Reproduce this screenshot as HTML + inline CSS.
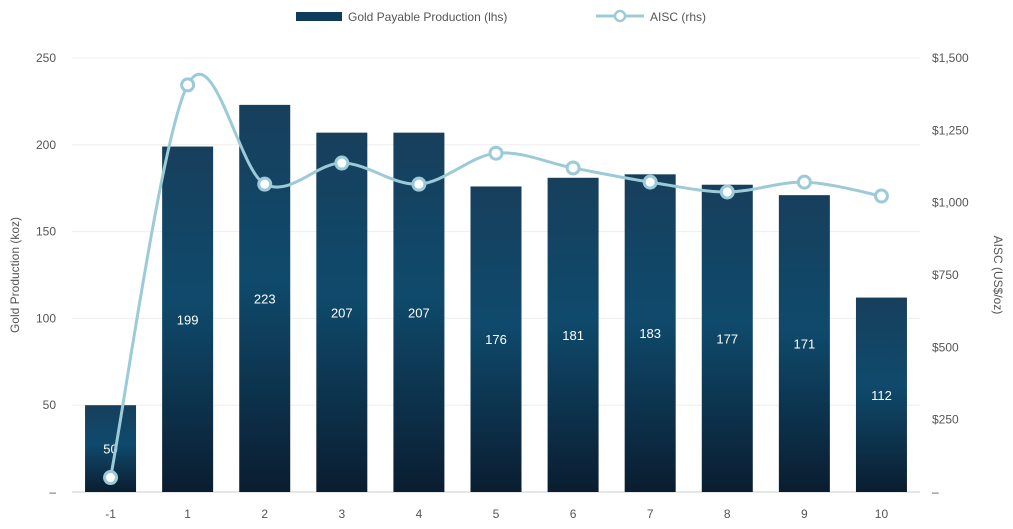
<!DOCTYPE html>
<html><head><meta charset="utf-8"><style>
body{margin:0;background:#fff;font-family:"Liberation Sans",sans-serif}
svg text{font-family:"Liberation Sans",sans-serif}
</style></head><body>
<svg id="c" width="1013" height="524">
<defs>
<linearGradient id="bg" x1="0" y1="0" x2="0" y2="1">
<stop offset="0" stop-color="#173f5c"/><stop offset="0.45" stop-color="#0f4a6c"/><stop offset="1" stop-color="#0a1d30"/>
</linearGradient>
</defs>
<g>
<rect x="296" y="12" width="46" height="9" fill="#0f3c5a"/>
<text x="348" y="21" font-size="12" fill="#555">Gold Payable Production (lhs)</text>
<line x1="596" y1="16" x2="644" y2="16" stroke="#9ccbd8" stroke-width="3"/>
<circle cx="620" cy="16" r="5" fill="#fff" stroke="#9ccbd8" stroke-width="2.5"/>
<text x="650" y="21" font-size="12" fill="#555">AISC (rhs)</text>
</g>
<text transform="translate(19,275) rotate(-90)" text-anchor="middle" font-size="12" fill="#555">Gold Production (koz)</text>
<text transform="translate(994,275) rotate(90)" text-anchor="middle" font-size="12" fill="#555">AISC (US$/oz)</text>
<g id="grid"></g><g id="bars"></g><g id="line"></g>
</svg>
<script>
const categories=["-1","1","2","3","4","5","6","7","8","9","10"];
const production=[50,199,223,207,207,176,181,183,177,171,112];
const aisc=[50,1407,1064,1137,1064,1171,1120,1071,1037,1071,1023];
const leftTicks=[0,50,100,150,200,250];
const rightTicks=[0,250,500,750,1000,1250,1500];
const ns="http://www.w3.org/2000/svg";
const X0=72,X1=920,Y0=492,Y1=58;
const yL=v=>Y0-(v/250)*(Y0-Y1);
const yR=v=>Y0-(v/1500)*(Y0-Y1);
const step=(X1-X0)/categories.length;
const xC=i=>X0+step*(i+0.5);
function mk(t,a,p){const e=document.createElementNS(ns,t);for(const k in a)e.setAttribute(k,a[k]);p.appendChild(e);return e;}
const grid=document.getElementById('grid'),bars=document.getElementById('bars'),line=document.getElementById('line');
leftTicks.forEach(v=>{
 const l=mk('line',{x1:X0,x2:X1,y1:yL(v),y2:yL(v),stroke:v?'#eeeeee':'#cccccc'},grid);
 
 
 const t=mk('text',{x:56,y:yL(v)+4,'text-anchor':'end','font-size':12,fill:'#555'},grid);
 t.textContent=v?String(v):'–';
 
 
});
rightTicks.forEach(v=>{
 const t=mk('text',{x:932,y:yR(v)+4,'font-size':12,fill:'#555'},grid);
 t.textContent=v?'$'+v.toLocaleString('en-US'):'–';
 
 
});
categories.forEach((c,i)=>{
 const t=mk('text',{x:xC(i),y:518,'text-anchor':'middle','font-size':12,fill:'#555'},grid);
 t.textContent=c;
 
 
 const v=production[i],w=51;
 const r=mk('rect',{x:xC(i)-w/2,y:yL(v),width:w,height:Y0-yL(v),fill:'url(#bg)'},bars);
 
 
 const lb=mk('text',{x:xC(i),y:(yL(v)+Y0)/2+5,'text-anchor':'middle','font-size':13,fill:'#fff'},bars);
 lb.textContent=v;
 
 
});
const pts=aisc.map((v,i)=>[xC(i),yR(v)]);
let d='M'+pts[0][0]+','+pts[0][1];
for(let i=0;i<pts.length-1;i++){
 const p0=pts[Math.max(0,i-1)],p1=pts[i],p2=pts[i+1],p3=pts[Math.min(pts.length-1,i+2)];
 const k=6;
 d+=` C${p1[0]+(p2[0]-p0[0])/k},${p1[1]+(p2[1]-p0[1])/k} ${p2[0]-(p3[0]-p1[0])/k},${p2[1]-(p3[1]-p1[1])/k} ${p2[0]},${p2[1]}`;
}
const path=mk('path',{d:d,fill:'none',stroke:'#9ccbd8','stroke-width':3},line);


pts.forEach((p,i)=>{
 const c=mk('circle',{cx:p[0],cy:p[1],r:6,fill:'#fff',stroke:'#9ccbd8','stroke-width':3},line);
 
 
});
</script>
</body></html>
